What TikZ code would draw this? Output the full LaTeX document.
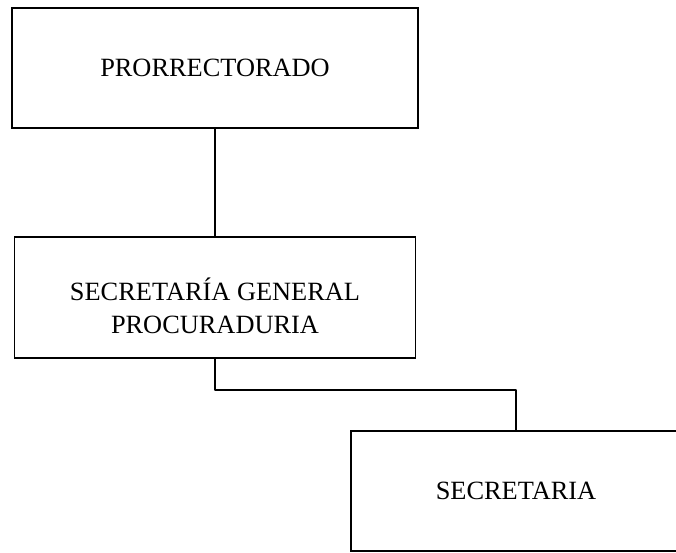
\documentclass[tikz,border=0pt]{standalone}
\usepackage{fontspec}
\setmainfont{Liberation Serif}
\usetikzlibrary{positioning}
\tikzset{orgbox/.style={draw, line width=1.6pt, align=center, inner sep=0pt,
    font=\fontsize{22.5}{28}\selectfont},
    orgline/.style={line width=1.6pt, line join=round}}

\begin{document}
\begin{tikzpicture}[x=0.03cm,y=-0.03cm]
  \useasboundingbox (0,0) rectangle (676,552);
  \clip (0,0) rectangle (676,552);
  \node[orgbox, minimum width=12.2cm, minimum height=3.6cm] (0) at (215,68) {PRORRECTORADO};
  \node[orgbox, minimum width=12.03cm, minimum height=3.63cm,
    label={[font=\fontsize{22.5}{28}\selectfont, align=center, yshift=-0.25cm]center:SECRETARÍA GENERAL\\PROCURADURIA}] (1) at (215,297.5) {};
  \node[orgbox, minimum width=9.9cm, minimum height=3.6cm] (2) at (516,491) {SECRETARIA};
  \coordinate (3) at (215,390);
  \draw[orgline] (0)--(1);
  \draw[orgline] (1)--(3) -| (2);
\end{tikzpicture}
\end{document}
